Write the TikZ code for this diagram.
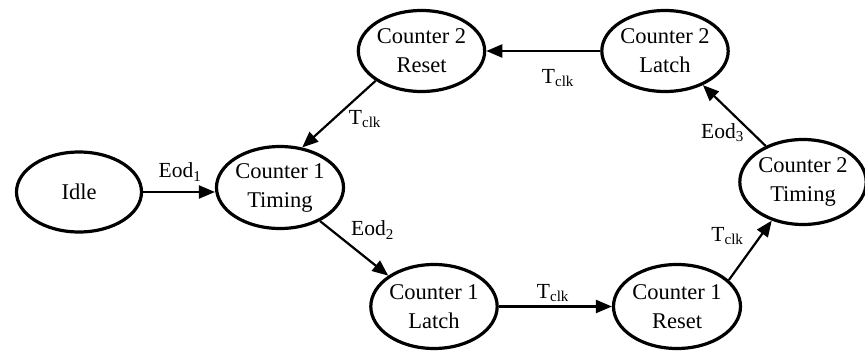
\documentclass[tikz,border=0pt]{standalone}
\usepackage{fontspec}
\setmainfont{Liberation Serif}
\usetikzlibrary{shapes.geometric,arrows.meta}
\begin{document}
\begin{tikzpicture}[x=1pt,y=-1pt,
  state/.style={ellipse,draw,line width=3.2pt,inner sep=0pt,align=center,
    font=\fontsize{22.5}{29}\selectfont},
  trans/.style={line width=2.2pt,-{Triangle[length=16pt,width=13pt]}},
  lbl/.style={font=\fontsize{21.5}{24}\selectfont,inner sep=0pt}]
\useasboundingbox (0,0) rectangle (865,356);
% states
\node[state,minimum width=125pt,minimum height=80pt] (idle) at (79,192) {Idle};
\node[state,minimum width=127pt,minimum height=82pt] (c1t) at (280,187.5) {Counter 1\\Timing};
\node[state,minimum width=124pt,minimum height=81pt] (c2r) at (421.5,51) {Counter 2\\Reset};
\node[state,minimum width=125pt,minimum height=81pt] (c2l) at (665,51) {Counter 2\\Latch};
\node[state,minimum width=117pt,minimum height=85pt] (c2t) at (803,182) {Counter 2\\Timing};
\node[state,minimum width=125pt,minimum height=84pt] (c1l) at (434,306.5) {Counter 1\\Latch};
\node[state,minimum width=127pt,minimum height=84pt] (c1r) at (677,306.5) {Counter 1\\Reset};
% transitions
\draw[trans] (idle.east) -- (c1t.west |- idle.east);
\draw[trans] (c2r.-147) -- (c1t.61);
\draw[trans] (c1t.-40) -- (c1l.146);
\draw[trans] (c1l) -- (c1r);
\draw[trans] (c1r.27) -- (c2t.-129);
\draw[trans] (c2t.136) -- (c2l.-42);
\draw[trans] (c2l) -- (c2r);
% transition labels
\node[lbl] (e1) at (180,172) {Eod$_{\mathrm{1}}$};
\node[lbl] (t1) at (365,119) {T$_{\mathrm{clk}}$};
\node[lbl] (e2) at (372.5,230) {Eod$_{\mathrm{2}}$};
\node[lbl] (t2) at (553,293) {T$_{\mathrm{clk}}$};
\node[lbl] (t3) at (727.5,236) {T$_{\mathrm{clk}}$};
\node[lbl] (e3) at (722.5,133) {Eod$_{\mathrm{3}}$};
\node[lbl] (t4) at (558,78) {T$_{\mathrm{clk}}$};
\end{tikzpicture}
\end{document}
